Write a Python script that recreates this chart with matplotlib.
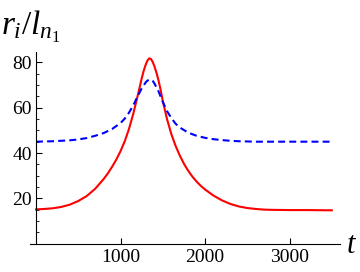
import matplotlib
matplotlib.use("Agg")
import matplotlib.pyplot as plt
from matplotlib.ticker import MultipleLocator

plt.rcParams["font.family"] = "Liberation Serif"
plt.rcParams["mathtext.fontset"] = "custom"
plt.rcParams["mathtext.rm"] = "Liberation Serif"
plt.rcParams["mathtext.it"] = "Liberation Serif:italic"
plt.rcParams["lines.scale_dashes"] = False

# red solid curve
t_red = [0, 100, 200, 300, 400, 500, 600, 700, 800, 850, 900, 950, 1000, 1050,
         1100, 1150, 1200, 1250, 1275, 1300, 1320, 1340, 1360, 1380, 1400, 1425,
         1450, 1475, 1500, 1550, 1600, 1650, 1700, 1750, 1800, 1850, 1900, 1950,
         2000, 2100, 2200, 2300, 2400, 2500, 2600, 2700, 2800, 3000, 3200, 3500]
r_red = [15.1, 15.3, 15.6, 16.2, 17.2, 18.8, 21.0, 24.2, 28.5, 31.0, 33.9, 37.1,
         40.8, 45.2, 50.6, 57.2, 64.8, 72.8, 76.4, 79.2, 80.9, 81.8, 81.5, 80.3,
         78.4, 75.5, 72.0, 67.8, 63.0, 55.0, 48.5, 43.3, 39.0, 35.3, 32.2, 29.6,
         27.4, 25.5, 23.9, 21.2, 19.1, 17.5, 16.4, 15.7, 15.3, 15.0, 14.9, 14.8,
         14.8, 14.7]

# blue dashed curve
t_blue = [0, 200, 400, 500, 600, 700, 800, 900, 1000, 1050, 1100, 1150, 1200,
          1250, 1300, 1320, 1340, 1360, 1380, 1400, 1450, 1500, 1550, 1600, 1650,
          1700, 1800, 1900, 2000, 2100, 2200, 2300, 2400, 2600, 3000, 3500]
r_blue = [45.0, 45.2, 45.6, 46.0, 46.6, 47.6, 48.8, 50.6, 53.2, 55.2, 57.8, 61.0,
          64.8, 68.5, 71.3, 72.0, 72.4, 72.4, 71.9, 70.8, 67.2, 62.6, 58.5, 55.5,
          53.0, 51.3, 49.0, 47.6, 46.7, 46.1, 45.7, 45.4, 45.2, 45.0, 45.0, 45.0]

fig = plt.figure(figsize=(3.6, 2.72), dpi=100)
ax = fig.add_axes([30 / 360, 1 - 243.6 / 272, 310 / 360, 191.6 / 272])

ax.plot(t_red, r_red, color="red", lw=1.5)
ax.plot(t_blue, r_blue, color="blue", lw=1.5, dashes=(5, 3))

ax.set_xlim(-71, 3597)
ax.set_ylim(0, 84.6)
ax.spines["left"].set_position(("data", 0))
ax.spines["top"].set_visible(False)
ax.spines["right"].set_visible(False)
ax.set_xticks([1000, 2000, 3000])
ax.set_yticks([20, 40, 60, 80])
ax.yaxis.set_minor_locator(MultipleLocator(5))
ax.tick_params(direction="in", labelsize=14, length=4, width=0.8)
ax.tick_params(which="minor", direction="in", length=2.5, width=0.6)
ax.tick_params(axis="x", pad=4)
ax.tick_params(axis="y", pad=3)

fig.text(1 / 360, 1 - 35 / 272, r"$r_i/l_{n_1}$", fontsize=24, ha="left", va="baseline")
fig.text(346 / 360, 1 - 253 / 272, r"$t$", fontsize=22, ha="left", va="baseline")

fig.savefig("out.png", dpi=100)
